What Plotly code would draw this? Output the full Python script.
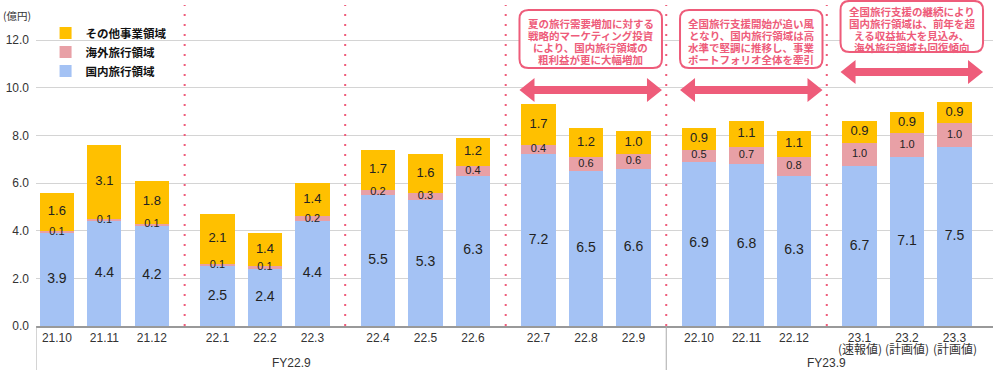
import plotly.graph_objects as go

# ---------------- data ----------------
months = ["21.10", "21.11", "21.12", "22.1", "22.2", "22.3", "22.4", "22.5", "22.6",
          "22.7", "22.8", "22.9", "22.10", "22.11", "22.12", "23.1", "23.2", "23.3"]
month_notes = ["", "", "", "", "", "", "", "", "", "", "", "", "", "", "",
               "(速報値)", "(計画値)", "(計画値)"]
domestic = [3.9, 4.4, 4.2, 2.5, 2.4, 4.4, 5.5, 5.3, 6.3, 7.2, 6.5, 6.6, 6.9, 6.8, 6.3, 6.7, 7.1, 7.5]
overseas = [0.1, 0.1, 0.1, 0.1, 0.1, 0.2, 0.2, 0.3, 0.4, 0.4, 0.6, 0.6, 0.5, 0.7, 0.8, 1.0, 1.0, 1.0]
other = [1.6, 3.1, 1.8, 2.1, 1.4, 1.4, 1.7, 1.6, 1.2, 1.7, 1.2, 1.0, 0.9, 1.1, 1.1, 0.9, 0.9, 0.9]
series_names = ["国内旅行領域", "海外旅行領域", "その他事業領域"]
y_ticks = [0, 2, 4, 6, 8, 10, 12]
unit_label = "(億円)"
fiscal_years = ["FY22.9", "FY23.9"]
notes = [
    ["夏の旅行需要増加に対する", "戦略的マーケティング投資", "により、国内旅行領域の", "粗利益が更に大幅増加"],
    ["全国旅行支援開始が追い風", "となり、国内旅行領域は高", "水準で堅調に推移し、事業", "ポートフォリオ全体を牽引"],
    ["全国旅行支援の継続により", "国内旅行領域は、前年を超", "える収益拡大を見込み、", "海外旅行領域も回復傾向"],
]

# ---------------- styles / layout ----------------
C_DOM = "#A4C2F4"
C_OVS = "#E8A0A6"
C_OTH = "#FFC000"
PINK = "#EE5C7A"
TXT = "#222222"
FONT = "Liberation Sans, Arial, Noto Sans CJK JP"
JFONT = "Noto Sans CJK JP, Liberation Sans"

GAP = 0.38
n = len(months)
xpos = [i + GAP * (i // 3) for i in range(n)]
ngroups = n // 3
group_centers = [xpos[3 * g + 1] for g in range(ngroups)]
dividers = [(xpos[3 * g + 2] + xpos[3 * g + 3]) / 2 for g in range(ngroups - 1)]

W, H = 1000, 370
ML, MR, MT, MB = 36, 7, 0, 44
XR = [-0.44, 19.71]
YR = [0, 13.68]
px_x = (XR[1] - XR[0]) / (W - ML - MR)   # data units per px (x)
px_y = (YR[1] - YR[0]) / (H - MT - MB)   # data units per px (y)

fig = go.Figure()
for vals, name, col in [(domestic, series_names[0], C_DOM),
                        (overseas, series_names[1], C_OVS),
                        (other, series_names[2], C_OTH)]:
    fig.add_trace(go.Bar(x=xpos, y=vals, name=f"<b>{name}</b>", marker=dict(color=col, line=dict(width=0)),
                         width=0.72, hoverinfo="skip"))

# value labels at segment middles
base = [0.0] * n
for vals, size in [(domestic, 14), (overseas, 11), (other, 13)]:
    mids = [b + v / 2 for b, v in zip(base, vals)]
    fig.add_trace(go.Scatter(x=xpos, y=mids, mode="text", text=[f"{v:.1f}" for v in vals],
                             textfont=dict(size=size, color=TXT, family=FONT),
                             showlegend=False, hoverinfo="skip", cliponaxis=False))
    base = [b + v for b, v in zip(base, vals)]

shapes = []
# dotted vertical dividers
for d in dividers:
    shapes.append(dict(type="line", xref="x", yref="y", x0=d, x1=d, y0=0, y1=13.47,
                       line=dict(color=PINK, width=2, dash="2px,8px"), layer="above"))
# fiscal-year separators below axis
for xs in [XR[0], dividers[3]]:
    shapes.append(dict(type="line", xref="x", yref="paper", x0=xs, x1=xs, y0=0, y1=-MB / (H - MT - MB),
                       line=dict(color="#aaaaaa", width=1)))

def rounded_rect(x0, x1, y0, y1, r):
    rx, ry = r * px_x, r * px_y
    return (f"M{x0+rx},{y0} L{x1-rx},{y0} Q{x1},{y0} {x1},{y0+ry} L{x1},{y1-ry} "
            f"Q{x1},{y1} {x1-rx},{y1} L{x0+rx},{y1} Q{x0},{y1} {x0},{y1-ry} "
            f"L{x0},{y0+ry} Q{x0},{y0} {x0+rx},{y0} Z")

def double_arrow(x0, x1, yc):
    sh, hh, hl = 4 * px_y, 12 * px_y, 15 * px_x
    return (f"M{x0},{yc} L{x0+hl},{yc+hh} L{x0+hl},{yc+sh} L{x1-hl},{yc+sh} L{x1-hl},{yc+hh} "
            f"L{x1},{yc} L{x1-hl},{yc-hh} L{x1-hl},{yc-sh} L{x0+hl},{yc-sh} L{x0+hl},{yc-hh} Z")

annotations = []
note_groups = [3, 4, 5]
box_y = [(10.83, 13.26, 9.90), (10.83, 13.26, 9.90), (11.50, 13.64, 10.66)]
LINE_PX = 12
for g, lines, (yb, yt, ya) in zip(note_groups, notes, box_y):
    c = group_centers[g] + 0.1
    half = 1.5
    shapes.append(dict(type="path", xref="x", yref="y", path=rounded_rect(c - half, c + half, yb, yt, 9),
                       line=dict(color=PINK, width=2), fillcolor="white", layer="above"))
    shapes.append(dict(type="path", xref="x", yref="y", path=double_arrow(c - half, c + half, ya),
                       line=dict(width=0), fillcolor=PINK, layer="above"))
    ymid = (yb + yt) / 2 - 3 * px_y
    nl = len(lines)
    for k, ln in enumerate(lines):
        yk = ymid + ((nl - 1) / 2 - k) * LINE_PX * px_y
        annotations.append(dict(x=c, y=yk, xref="x", yref="y", text=f"<b>{ln}</b>",
                                showarrow=False, font=dict(size=10.5, color=PINK, family=JFONT),
                                align="center", xanchor="center", yanchor="middle", borderpad=0))

# second-line notes under month ticks
for xp, nt in zip(xpos, month_notes):
    if nt:
        annotations.append(dict(x=xp, y=0, xref="x", yref="paper", yshift=-22, text=nt,
                                showarrow=False, xanchor="center", yanchor="middle",
                                font=dict(size=12, color="#333333", family=JFONT)))

# unit label
annotations.append(dict(x=0, y=1, xref="paper", yref="paper", xshift=-35, yshift=-15,
                        text=unit_label, showarrow=False, xanchor="left", yanchor="middle",
                        font=dict(size=10.5, color="#333333", family=JFONT)))
# fiscal-year labels
for xf, lab in zip([4.93, 16.2], fiscal_years):
    annotations.append(dict(x=xf, y=0, xref="x", yref="paper", yshift=-37, text=lab,
                            showarrow=False, xanchor="center", yanchor="middle",
                            font=dict(size=12, color="#333333", family=FONT)))

fig.update_layout(
    width=W, height=H,
    margin=dict(l=ML, r=MR, t=MT, b=MB, autoexpand=False),
    barmode="stack",
    plot_bgcolor="white", paper_bgcolor="white",
    font=dict(family=FONT, color="#333333"),
    showlegend=True,
    legend=dict(x=0.010, y=0.943, xanchor="left", yanchor="top", traceorder="reversed",
                font=dict(size=11.5, color="#111111", family=JFONT), bgcolor="rgba(0,0,0,0)",
                itemclick=False),
    xaxis=dict(range=XR, tickvals=xpos, ticktext=months, showgrid=False, zeroline=False,
               showline=True, linecolor="#999999", linewidth=1.5, ticks="", tickangle=0,
               automargin=False,
               tickfont=dict(size=12, color="#333333", family=FONT)),
    yaxis=dict(range=YR, tickvals=y_ticks, tickformat=".1f", showgrid=True, gridcolor="#d4d4d4",
               gridwidth=1, zeroline=False, showline=False, ticks="", ticklabelstandoff=6,
               automargin=False,
               tickfont=dict(size=12, color="#333333", family=FONT)),
    shapes=shapes,
    annotations=annotations,
    bargap=0,
)

fig.write_html("out.html", config={"displayModeBar": False},
               post_script="document.body.style.margin='0px';")
